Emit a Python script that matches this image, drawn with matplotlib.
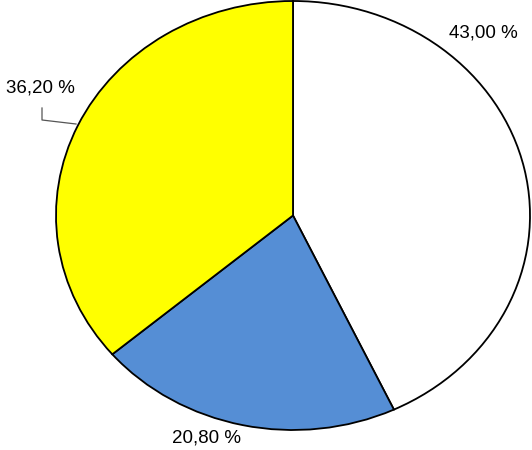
import matplotlib
matplotlib.use("Agg")
import matplotlib.pyplot as plt
from matplotlib.transforms import Affine2D

labels = ["43,00 %", "20,80 %", "36,20 %"]
values = [43.0, 20.8, 36.2]
colors = ["#FFFFFF", "#558ED5", "#FFFF00"]

W, H = 532, 450
cx, cy = 293, 215.5
rx, ry = 237, 214.5

fig = plt.figure(figsize=(W / 100, H / 100), dpi=100)
ax = fig.add_axes([0, 0, 1, 1])
ax.pie(values, colors=colors, startangle=90, counterclock=False, radius=1,
       wedgeprops=dict(edgecolor="black", linewidth=1.3))
ax.set_aspect("auto")
ax.set_xlim(-cx / rx, (W - cx) / rx)
ax.set_ylim(-(H - cy) / ry, cy / ry)
ax.axis("off")

# pixel-coordinate transform (origin top-left)
pix = Affine2D().scale(1, -1).translate(0, H) + fig.dpi_scale_trans.inverted().frozen()
pix = Affine2D().scale(1 / 100, -1 / 100).translate(0, H / 100) + fig.dpi_scale_trans

font = dict(family=["Liberation Sans", "DejaVu Sans"], fontsize=13.5, color="black")
ax.text(483, 33, labels[0], transform=pix, ha="center", va="center", **font)
ax.text(207, 438, labels[1], transform=pix, ha="center", va="center", **font)
ax.text(40, 88, labels[2], transform=pix, ha="center", va="center", **font)

ax.plot([42, 42, 76], [108, 120, 124], transform=pix, color="#555555", lw=0.9, clip_on=False)

fig.savefig("out.png", dpi=100, facecolor="white")
